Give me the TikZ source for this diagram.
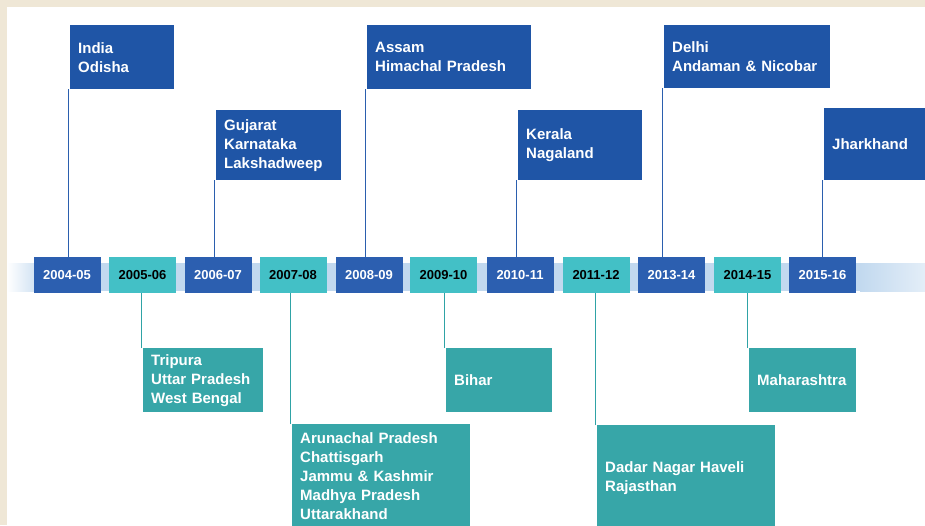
\documentclass[tikz,border=0pt]{standalone}
\usepackage{fontspec}
\setmainfont{Liberation Sans}
\usetikzlibrary{calc}
\definecolor{framebg}{HTML}{EFE7D6}
\definecolor{bandblue}{HTML}{C2D9EF}
\definecolor{navybox}{HTML}{1F55A6}
\definecolor{yearnavy}{HTML}{2C5FB0}
\definecolor{tealbox}{HTML}{37A6A8}
\definecolor{yearteal}{HTML}{43C0C6}
\definecolor{linknavy}{HTML}{2B5FAE}
\definecolor{linkteal}{HTML}{2FA3A6}
\begin{document}
\begin{tikzpicture}[x=1pt,y=-1pt,
  infobox/.style={anchor=north west, inner xsep=8pt, inner ysep=0pt, align=left,
    font=\fontsize{15}{19}\selectfont\bfseries, text=white},
  upbox/.style={infobox, fill=navybox},
  downbox/.style={infobox, fill=tealbox},
  yearbox/.style={minimum width=67pt, minimum height=36pt, inner sep=0pt,
    font=\fontsize{13}{15}\selectfont\bfseries},
  yblue/.style={yearbox, fill=yearnavy, text=white},
  yteal/.style={yearbox, fill=yearteal, text=black},
  uplink/.style={draw=linknavy, line width=1pt},
  downlink/.style={draw=linkteal, line width=1pt}]
\useasboundingbox (0,0) rectangle (925,525);
\clip (0,0) rectangle (925,525);

% page frame
\fill[framebg] (0,0) rectangle (925,525);
\fill[white] (7,7) rectangle (925,525);

% timeline band
\shade[left color=white, right color=bandblue] (7,263) rectangle (45,291);
\fill[bandblue] (45,263) rectangle (860,291);
\shade[left color=bandblue, right color=bandblue!45!white] (860,263) rectangle (925,291);

% year markers
\node[yblue] (y1)  at (67,275)    {2004-05};
\node[yteal] (y2)  at (142.5,275) {2005-06};
\node[yblue] (y3)  at (218,275)   {2006-07};
\node[yteal] (y4)  at (293,275)   {2007-08};
\node[yblue] (y5)  at (369,275)   {2008-09};
\node[yteal] (y6)  at (443.5,275) {2009-10};
\node[yblue] (y7)  at (520,275)   {2010-11};
\node[yteal] (y8)  at (596,275)   {2011-12};
\node[yblue] (y9)  at (671.5,275) {2013-14};
\node[yteal] (y10) at (747.5,275) {2014-15};
\node[yblue] (y11) at (822.5,275) {2015-16};

% states above the timeline
\node[upbox, text width=88pt,  minimum height=64pt] (t1) at (70,25)  {India\\Odisha};
\node[upbox, text width=109pt, minimum height=70pt] (t2) at (216,110) {Gujarat\\Karnataka\\Lakshadweep};
\node[upbox, text width=148pt, minimum height=64pt] (t3) at (367,25) {Assam\\Himachal Pradesh};
\node[upbox, text width=108pt, minimum height=70pt] (t4) at (518,110) {Kerala\\Nagaland};
\node[upbox, text width=150pt, minimum height=63pt] (t5) at (664,25) {Delhi\\Andaman \& Nicobar};
\node[upbox, text width=104pt, minimum height=72pt] (t6) at (824,108) {Jharkhand};

% states below the timeline
\node[downbox, text width=104pt, minimum height=64pt]  (b1) at (143,348) {Tripura\\Uttar Pradesh\\West Bengal};
\node[downbox, text width=162pt, minimum height=104pt] (b2) at (292,424) {Arunachal Pradesh\\Chattisgarh\\Jammu \& Kashmir\\Madhya Pradesh\\Uttarakhand};
\node[downbox, text width=90pt,  minimum height=64pt]  (b3) at (446,348) {Bihar};
\node[downbox, text width=162pt, minimum height=105pt] (b4) at (597,425) {Dadar Nagar Haveli\\Rajasthan};
\node[downbox, text width=91pt,  minimum height=64pt]  (b5) at (749,348) {Maharashtra};

% connectors
\foreach \b/\y in {t1/y1, t2/y3, t3/y5, t4/y7, t5/y9, t6/y11} {
  \coordinate (c) at ($(\b.south west)+(-2,0)$);
  \draw[uplink] (c) -- (c |- \y.north);
}
\foreach \b/\y in {b1/y2, b2/y4, b3/y6, b4/y8, b5/y10} {
  \coordinate (c) at ($(\b.north west)+(-2,0)$);
  \draw[downlink] (c) -- (c |- \y.south);
}
\end{tikzpicture}
\end{document}
